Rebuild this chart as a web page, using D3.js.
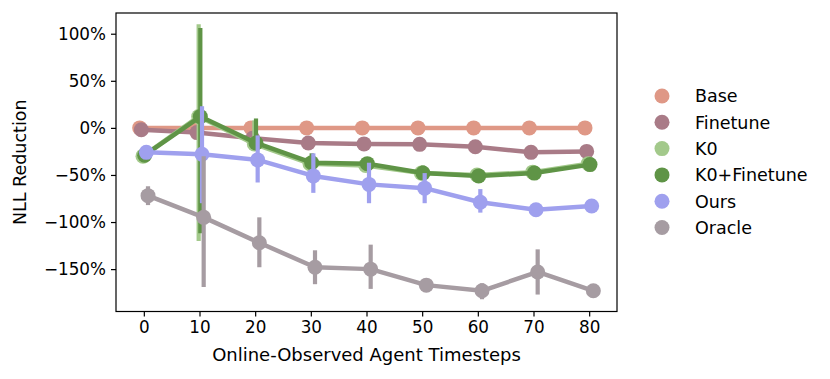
<!doctype html>
<html lang="en">
<head>
<meta charset="UTF-8">
<title>NLL Reduction</title>
<script src="https://cdnjs.cloudflare.com/ajax/libs/d3/7.8.5/d3.min.js"></script>
<style>
    body { margin: 0; background: #fff; }
    text { font-family: "DejaVu Sans", sans-serif; fill: #000; }
</style>
</head>
<body>
<svg id="chart" width="830" height="379"></svg>
<script>
    // timesteps on the x axis (categorical)
    var steps = [0, 10, 20, 30, 40, 50, 60, 70, 80];
    var yTicks = [100, 50, 0, -50, -100, -150];

    var names = ['Base', 'Finetune', 'K0', 'K0+Finetune', 'Ours', 'Oracle'];
    var colors = ['#df9886', '#a97b87', '#a3c98b', '#5f9446', '#9fa0ee', '#a69ca2'];

    // mean NLL reduction (%) per step
    var base     = [0, 0, 0, 0, 0, 0, 0, 0, 0];
    var finetune = [-2, -5, -11, -16, -17, -17.5, -20, -26, -25];
    var k0       = [-30, 12, -17, -38, -40, -48, -50, -47, -38];
    var k0ft     = [-29, 12, -16, -37, -38, -48, -51, -48, -39];
    var ours     = [-26, -28, -34, -51, -60, -64, -79, -87, -83];
    var oracle   = [-72, -95, -122, -148, -150, -167, -173, -153, -173];

    // error bar ranges [low, high], null = too small to see
    var k0Err     = [null, [-120, 110], [-22, 8], null, null, null, null, null, null];
    var k0ftErr   = [null, [-112, 106], [-20, 10], [-45, -27], null, [-55, -40], null, null, null];
    var oursErr   = [null, [-80, 23], [-58, -8], [-69, -27], [-80, -37], [-80, -48], [-90, -65], null, null];
    var oracleErr = [[-82, -62], [-169, -30], [-148, -95], [-166, -130], [-171, -124], null, [-182, -165], [-177, -129], null];
    var noErr     = [null, null, null, null, null, null, null, null, null];

    var series = [
        {name: names[0], values: base, err: noErr},
        {name: names[1], values: finetune, err: noErr},
        {name: names[2], values: k0, err: k0Err},
        {name: names[3], values: k0ft, err: k0ftErr},
        {name: names[4], values: ours, err: oursErr},
        {name: names[5], values: oracle, err: oracleErr}
    ];

    var mLeft = 116, mRight = 617, mTop = 13, mBottom = 311.5;
    var svg = d3.select('#chart');

    var x = d3.scaleLinear().domain([-0.5, steps.length - 0.5]).range([mLeft, mRight]);
    var y = d3.scaleLinear().domain([-195, 122]).range([mBottom, mTop]);

    // seaborn-like dodge
    var dodge = 0.15;
    var offs = series.map(function (s, i) { return -dodge / 2 + i * dodge / (series.length - 1); });

    var plot = svg.append('g');

    series.forEach(function (s, si) {
        var col = colors[si];
        var g = plot.append('g');
        s.err.forEach(function (e, i) {
            if (!e) return;
            g.append('line')
                .attr('x1', x(i + offs[si])).attr('x2', x(i + offs[si]))
                .attr('y1', y(e[0])).attr('y2', y(e[1]))
                .attr('stroke', col).attr('stroke-width', 4.2);
        });
        var line = d3.line()
            .x(function (d, i) { return x(i + offs[si]); })
            .y(function (d) { return y(d); });
        g.append('path').datum(s.values)
            .attr('d', line)
            .attr('fill', 'none')
            .attr('stroke', col)
            .attr('stroke-width', 4.5)
            .attr('stroke-linejoin', 'round');
        g.selectAll('circle').data(s.values).enter().append('circle')
            .attr('cx', function (d, i) { return x(i + offs[si]); })
            .attr('cy', function (d) { return y(d); })
            .attr('r', 7.5)
            .attr('fill', col);
    });

    // frame
    svg.append('rect')
        .attr('x', mLeft).attr('y', mTop)
        .attr('width', mRight - mLeft).attr('height', mBottom - mTop)
        .attr('fill', 'none').attr('stroke', '#000').attr('stroke-width', 1.2);

    var xAxis = d3.axisBottom(x)
        .tickValues(d3.range(steps.length))
        .tickFormat(function (d) { return steps[d]; })
        .tickSize(5).tickPadding(5);
    var gx = svg.append('g').attr('transform', 'translate(0,' + mBottom + ')').call(xAxis);

    var yAxis = d3.axisLeft(y)
        .tickValues(yTicks)
        .tickFormat(function (d) { return (d < 0 ? '\u2212' + (-d) : d) + '%'; })
        .tickSize(5).tickPadding(5);
    var gy = svg.append('g').attr('transform', 'translate(' + mLeft + ',0)').call(yAxis);

    [gx, gy].forEach(function (g) {
        g.select('.domain').remove();
        g.selectAll('.tick line').attr('stroke', '#000').attr('stroke-width', 1.2);
        g.selectAll('.tick text').style('font-size', '16.8px').style('font-family', '"DejaVu Sans", sans-serif');
    });

    svg.append('text')
        .attr('x', (mLeft + mRight) / 2 + 0).attr('y', 361)
        .attr('text-anchor', 'middle')
        .style('font-size', '18px')
        .text('Online-Observed Agent Timesteps');

    svg.append('text')
        .attr('transform', 'translate(26,' + ((mTop + mBottom) / 2) + ') rotate(-90)')
        .attr('text-anchor', 'middle')
        .style('font-size', '17.5px')
        .text('NLL Reduction');

    // legend
    var legend = svg.append('g');
    series.forEach(function (s, i) {
        var ly = 96 + i * 26.3;
        legend.append('circle')
            .attr('cx', 662).attr('cy', ly).attr('r', 7.5)
            .attr('fill', colors[i]);
        legend.append('text')
            .attr('x', 695).attr('y', ly)
            .attr('dy', '0.36em')
            .style('font-size', '17.5px')
            .text(s.name);
    });
</script>
</body>
</html>
